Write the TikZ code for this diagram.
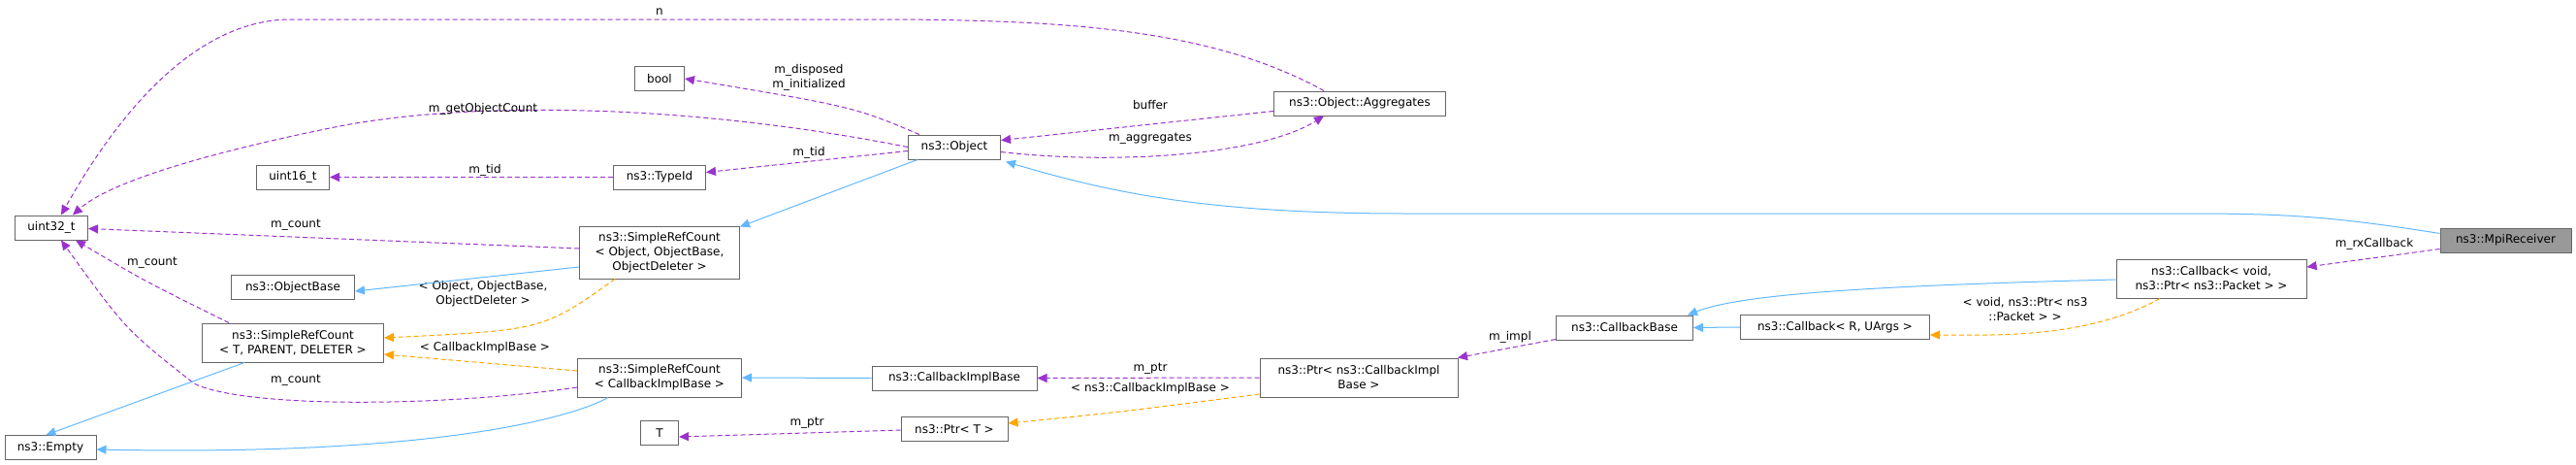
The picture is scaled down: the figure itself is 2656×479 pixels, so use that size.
\documentclass[tikz,border=0pt]{standalone}
\usepackage{fontspec}
\setmainfont{DejaVu Sans}
\usetikzlibrary{arrows.meta}
\definecolor{mem}{HTML}{9A32CD}
\definecolor{inh}{HTML}{63B8FF}
\definecolor{tpl}{HTML}{FFA500}
\definecolor{bdr}{HTML}{666666}
\tikzset{
  box/.style={draw=bdr,line width=1pt,fill=white,inner sep=2pt,align=center,font=\fontsize{12}{15}\selectfont},
  lbl/.style={inner sep=0pt,align=center,font=\fontsize{12}{15}\selectfont},
  memb/.style={draw=mem,line width=1pt,dash pattern=on 5pt off 3pt,-{Triangle[length=10pt,width=9pt]}},
  inhe/.style={draw=inh,line width=1pt,-{Triangle[length=10pt,width=9pt]}},
  tmpl/.style={draw=tpl,line width=1pt,dash pattern=on 5pt off 3pt,-{Triangle[length=10pt,width=9pt]}}
}
\begin{document}
\begin{tikzpicture}[x=1pt,y=-1pt]
\useasboundingbox (0,0) rectangle (2656,479);
\node[box,minimum width=75,minimum height=25] (u32) at (53,234.5) {uint32\_t};
\node[box,minimum width=51,minimum height=25] (bool) at (680,81) {bool};
\node[box,minimum width=75,minimum height=25] (u16) at (302,182.5) {uint16\_t};
\node[box,minimum width=95,minimum height=25] (tid) at (680,182.5) {ns3::TypeId};
\node[box,minimum width=165,minimum height=54] (srco) at (680,260) {ns3::SimpleRefCount\\{}< Object, ObjectBase,\\ObjectDeleter >};
\node[box,minimum width=127,minimum height=25] (ob) at (302,296) {ns3::ObjectBase};
\node[box,minimum width=187,minimum height=40] (srct) at (302,353) {ns3::SimpleRefCount\\{}< T, PARENT, DELETER >};
\node[box,minimum width=169,minimum height=40] (srcc) at (680,389) {ns3::SimpleRefCount\\{}< CallbackImplBase >};
\node[box,minimum width=94,minimum height=25] (empty) at (52,461) {ns3::Empty};
\node[box,minimum width=39,minimum height=25] (T) at (680,446) {T};
\node[box,minimum width=95,minimum height=25] (obj) at (984,151.5) {ns3::Object};
\node[box,minimum width=177,minimum height=25] (agg) at (1402,106.5) {ns3::Object::Aggregates};
\node[box,minimum width=170,minimum height=25] (cib) at (984,389.5) {ns3::CallbackImplBase};
\node[box,minimum width=204,minimum height=40] (pcib) at (1401,389) {ns3::Ptr< ns3::CallbackImpl\\Base >};
\node[box,minimum width=110,minimum height=25] (pt) at (984,442) {ns3::Ptr< T >};
\node[box,minimum width=141,minimum height=25] (cbb) at (1675,337.5) {ns3::CallbackBase};
\node[box,minimum width=135,minimum height=25,fill=black!40] (mpi) at (2583.5,247.5) {ns3::MpiReceiver};
\node[box,minimum width=196,minimum height=40] (cbv) at (2280,287) {ns3::Callback< void,\\ ns3::Ptr< ns3::Packet > >};
\node[box,minimum width=195,minimum height=25] (cbr) at (1892,337) {ns3::Callback< R, UArgs >};
% member edges
\draw[memb] ([xshift=-37pt]agg.north) .. controls (1250,30) and (1100,20) .. (900,20) -- (300,20) .. controls (200,20) and (120,120) .. ([xshift=10pt]u32.north)
  node[lbl] at (680,12) {n};
\draw[memb] (obj.west) .. controls (700,105) and (480,105) .. (350,130) .. controls (200,160) and (110,190) .. ([xshift=22pt]u32.north)
  node[lbl] at (498,112) {m\_getObjectCount};
\draw[memb] ([xshift=-36pt]obj.north) .. controls (880,110) .. (bool.east)
  node[lbl] at (834,80) {m\_disposed\\m\_initialized};
\draw[memb] ([yshift=-4pt]obj.west) -- ([yshift=5pt]tid.east) node[lbl] at (834,157) {m\_tid};
\draw[memb] (tid.west) -- (u16.east) node[lbl] at (500,175) {m\_tid};
\draw[memb] ([yshift=-8pt]agg.west) -- ([yshift=7pt]obj.east) node[lbl] at (1186,108) {buffer};
\draw[memb] ([yshift=-5pt]obj.east) .. controls (1150,170) and (1300,160) .. ([xshift=-37pt]agg.south) node[lbl] at (1186,143) {m\_aggregates};
\draw[memb] ([yshift=4pt]srco.west) -- ([yshift=-1pt]u32.east) node[lbl] at (305,232) {m\_count};
\draw[memb] ([xshift=-66pt]srct.north) .. controls (150,290) .. ([xshift=25pt]u32.south) node[lbl] at (157,271) {m\_count};
\draw[memb] ([yshift=-10pt]srcc.west) .. controls (450,420) and (250,420) .. (200,395) .. controls (130,340) .. ([xshift=10pt]u32.south) node[lbl] at (305,392) {m\_count};
\draw[memb] ([yshift=-12pt]cbb.west) -- ([xshift=102pt]pcib.north) node[lbl] at (1557,347) {m\_impl};
\draw[memb] (pcib.west) -- (cib.east) node[lbl] at (1186,380) {m\_ptr};
\draw[memb] ([yshift=-1pt]pt.west) -- ([yshift=-4pt]T.east) node[lbl] at (832,436) {m\_ptr};
\draw[memb] ([yshift=-9pt]mpi.west) -- ([yshift=12pt]cbv.east) node[lbl] at (2448,251) {m\_rxCallback};
% template edges
\draw[tmpl] ([xshift=-46pt]srco.south) .. controls (560,340) .. ([yshift=5pt]srct.east) node[lbl] at (498,303) {< Object, ObjectBase,\\ObjectDeleter >};
\draw[tmpl] ([yshift=7pt]srcc.west) -- ([yshift=-12pt]srct.east) node[lbl] at (500,358) {< CallbackImplBase >};
\draw[tmpl] ([yshift=-17pt]pcib.west) .. controls (1150,425) .. ([yshift=6pt]pt.east) node[lbl] at (1186,400) {< ns3::CallbackImplBase >};
\draw[tmpl] ([xshift=-53pt]cbv.south) .. controls (2150,350) and (2050,345) .. ([yshift=-8pt]cbr.east) node[lbl] at (2088,319) {< void, ns3::Ptr< ns3\\::Packet > >};
% inheritance edges
\draw[inhe] ([xshift=-38pt]obj.south) -- ([xshift=83pt,yshift=-1pt]srco.north);
\draw[inhe] ([yshift=-15pt]srco.west) -- ([yshift=-4pt]ob.east);
\draw[inhe] ([xshift=-50pt]srct.south) -- ([xshift=43pt]empty.north west);
\draw[inhe] ([xshift=-53pt]srcc.south) .. controls (590,430) and (450,470) .. ([yshift=-2pt]empty.east);
\draw[inhe] (cib.west) -- (srcc.east);
\draw[inhe] (cbr.west) -- (cbb.east);
\draw[inhe] ([yshift=-1pt]cbv.west) .. controls (1900,295) and (1790,305) .. ([xshift=-6pt]cbb.north east);
\draw[inhe] ([yshift=7pt]mpi.west) .. controls (2400,222) and (2350,220) .. (2250,220) -- (1450,220) .. controls (1250,220) and (1150,200) .. ([xshift=5pt,yshift=-2pt]obj.south east);
\end{tikzpicture}
\end{document}
